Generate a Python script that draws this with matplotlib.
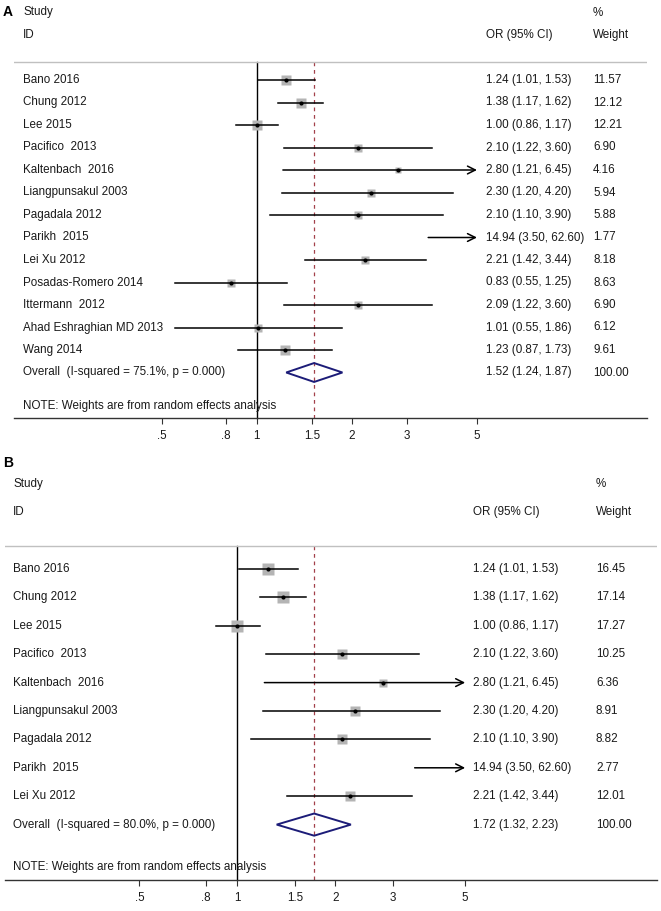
import numpy as np
import matplotlib
matplotlib.use("Agg")
import matplotlib.pyplot as plt
from matplotlib.patches import Polygon

plt.rcParams['font.family'] = ['Liberation Sans', 'DejaVu Sans']

# ---------------- data ----------------
studies_A = ["Bano 2016", "Chung 2012", "Lee 2015", "Pacifico  2013", "Kaltenbach  2016",
             "Liangpunsakul 2003", "Pagadala 2012", "Parikh  2015", "Lei Xu 2012",
             "Posadas-Romero 2014", "Ittermann  2012", "Ahad Eshraghian MD 2013", "Wang 2014"]
or_A = [1.24, 1.38, 1.00, 2.10, 2.80, 2.30, 2.10, 14.94, 2.21, 0.83, 2.09, 1.01, 1.23]
lo_A = [1.01, 1.17, 0.86, 1.22, 1.21, 1.20, 1.10, 3.50, 1.42, 0.55, 1.22, 0.55, 0.87]
hi_A = [1.53, 1.62, 1.17, 3.60, 6.45, 4.20, 3.90, 62.60, 3.44, 1.25, 3.60, 1.86, 1.73]
w_A = [11.57, 12.12, 12.21, 6.90, 4.16, 5.94, 5.88, 1.77, 8.18, 8.63, 6.90, 6.12, 9.61]
overall_A = (1.52, 1.24, 1.87)
isq_A = "75.1%"

studies_B = ["Bano 2016", "Chung 2012", "Lee 2015", "Pacifico  2013", "Kaltenbach  2016",
             "Liangpunsakul 2003", "Pagadala 2012", "Parikh  2015", "Lei Xu 2012"]
or_B = [1.24, 1.38, 1.00, 2.10, 2.80, 2.30, 2.10, 14.94, 2.21]
lo_B = [1.01, 1.17, 0.86, 1.22, 1.21, 1.20, 1.10, 3.50, 1.42]
hi_B = [1.53, 1.62, 1.17, 3.60, 6.45, 4.20, 3.90, 62.60, 3.44]
w_B = [16.45, 17.14, 17.27, 10.25, 6.36, 8.91, 8.82, 2.77, 12.01]
overall_B = (1.72, 1.32, 2.23)
isq_B = "80.0%"

tick_vals = [0.5, 0.8, 1, 1.5, 2, 3, 5]
tick_labels = [".5", ".8", "1", "1.5", "2", "3", "5"]

# ---------------- figure ----------------
W, H = 661, 911
fig = plt.figure(figsize=(W / 100, H / 100), dpi=100)
FS = 8.4
TXT = '#1a1a1a'


def draw_panel(letter, studies, est, lo, hi, w, overall, isq,
               left_px, right_px, top_px, bottom_px, xlim, ylim,
               lab_px, or_px, wt_px, box_k, diamond_h, letter_y):
    ax = fig.add_axes([left_px / W, 1 - bottom_px / H,
                       (right_px - left_px) / W, (bottom_px - top_px) / H])
    ax.set_xscale('log')
    ax.set_xlim(*xlim)
    ax.set_ylim(*ylim)
    for s in ['top', 'left', 'right']:
        ax.spines[s].set_visible(False)
    ax.spines['bottom'].set_color('#333333')
    ax.spines['bottom'].set_linewidth(1.0)
    ax.set_yticks([])
    ax.set_xticks(tick_vals)
    ax.set_xticklabels(tick_labels, fontsize=FS, color=TXT)
    ax.xaxis.set_minor_locator(matplotlib.ticker.NullLocator())
    ax.tick_params(axis='x', length=4.5, width=0.8, color='#333333', pad=4)

    tr = ax.get_yaxis_transform()
    fx = lambda px: (px - left_px) / (right_px - left_px)

    n = len(studies)
    y_over = n
    y_note = n + 1.5
    y_line = -0.8
    ybot = ylim[0]

    # header
    ax.text(fx(lab_px), -3, "Study", transform=tr, fontsize=FS, va='center', ha='left', color=TXT)
    ax.text(fx(lab_px), -2, "ID", transform=tr, fontsize=FS, va='center', ha='left', color=TXT)
    ax.text(fx(or_px), -2, "OR (95% CI)", transform=tr, fontsize=FS, va='center', ha='left', color=TXT)
    ax.text(fx(wt_px), -3, "%", transform=tr, fontsize=FS, va='center', ha='left', color=TXT)
    ax.text(fx(wt_px), -2, "Weight", transform=tr, fontsize=FS, va='center', ha='left', color=TXT)
    ax.text(fx(3), letter_y, letter, transform=tr, fontsize=10, fontweight='bold',
            va='center', ha='left', color='black')
    ax.axhline(y_line, color='#c0c0c0', lw=1.0)

    # reference lines
    ax.plot([1, 1], [y_line, ybot], color='black', lw=1.0, zorder=1, clip_on=False)
    ax.plot([overall[0], overall[0]], [y_line, ybot], color='#a3404a', lw=0.9,
            ls=(0, (3.0, 3.0)), zorder=1)

    xmin, xmax = tick_vals[0], tick_vals[-1]
    for i in range(n):
        y = i
        if xmin <= est[i] <= xmax:
            side = box_k * np.sqrt(w[i]) * 0.72
            ax.plot(est[i], y, marker='s', ms=side, color='#b4b4b4', mec='none', zorder=2)
            ax.plot(est[i], y, marker='o', ms=3.0, color='black', mec='none', zorder=4)
        a = max(lo[i], xmin)
        b = min(hi[i], xmax)
        if hi[i] > xmax:
            ax.annotate('', xy=(b, y), xytext=(a, y),
                        arrowprops=dict(arrowstyle='->', lw=1.1, color='black',
                                        shrinkA=0, shrinkB=0, mutation_scale=14),
                        zorder=3)
        else:
            ax.plot([a, b], [y, y], color='black', lw=1.1, zorder=3)
        ax.text(fx(lab_px), y, studies[i], transform=tr, fontsize=FS, va='center', ha='left', color=TXT)
        ax.text(fx(or_px), y, f"{est[i]:.2f} ({lo[i]:.2f}, {hi[i]:.2f})", transform=tr,
                fontsize=FS, va='center', ha='left', color=TXT)
        ax.text(fx(wt_px), y, f"{w[i]:.2f}", transform=tr, fontsize=FS, va='center', ha='left', color=TXT)

    e, l, h = overall
    dia = Polygon([(l, y_over), (e, y_over - diamond_h), (h, y_over), (e, y_over + diamond_h)],
                  closed=True, fill=False, edgecolor='#1c1c78', lw=1.4, zorder=3)
    ax.add_patch(dia)
    ax.text(fx(lab_px), y_over, f"Overall  (I-squared = {isq}, p = 0.000)", transform=tr,
            fontsize=FS, va='center', ha='left', color=TXT)
    ax.text(fx(or_px), y_over, f"{e:.2f} ({l:.2f}, {h:.2f})", transform=tr,
            fontsize=FS, va='center', ha='left', color=TXT)
    ax.text(fx(wt_px), y_over, "100.00", transform=tr, fontsize=FS, va='center', ha='left', color=TXT)
    ax.text(fx(lab_px), y_note, "NOTE: Weights are from random effects analysis", transform=tr,
            fontsize=FS, va='center', ha='left', color=TXT)
    return ax


# Panel A: px = 256.8 + 136.8*ln(v); rows y_px = 80 + 22.5*i
kA, cA, r0A, dA = 136.8, 256.8, 80.0, 22.5
leftA, rightA, topA, botA = 14, 647, 0, 418
draw_panel("A", studies_A, or_A, lo_A, hi_A, w_A, overall_A, isq_A,
           leftA, rightA, topA, botA,
           (np.exp((leftA - cA) / kA), np.exp((rightA - cA) / kA)),
           ((botA - r0A) / dA, (topA - r0A) / dA),
           23, 486, 593, 2.95, 0.42, (12 - r0A) / dA)

# Panel B: px = 237.4 + 141.5*ln(v); rows y_px = 569 + 28.4*i
kB, cB, r0B, dB = 141.5, 237.4, 569.0, 28.4
leftB, rightB, topB, botB = 5, 657, 440, 880
draw_panel("B", studies_B, or_B, lo_B, hi_B, w_B, overall_B, isq_B,
           leftB, rightB, topB, botB,
           (np.exp((leftB - cB) / kB), np.exp((rightB - cB) / kB)),
           ((botB - r0B) / dB, (topB - r0B) / dB),
           13, 473, 596, 3.1, 0.39, (463 - r0B) / dB)

fig.savefig("out.png", dpi=100, facecolor='white')
